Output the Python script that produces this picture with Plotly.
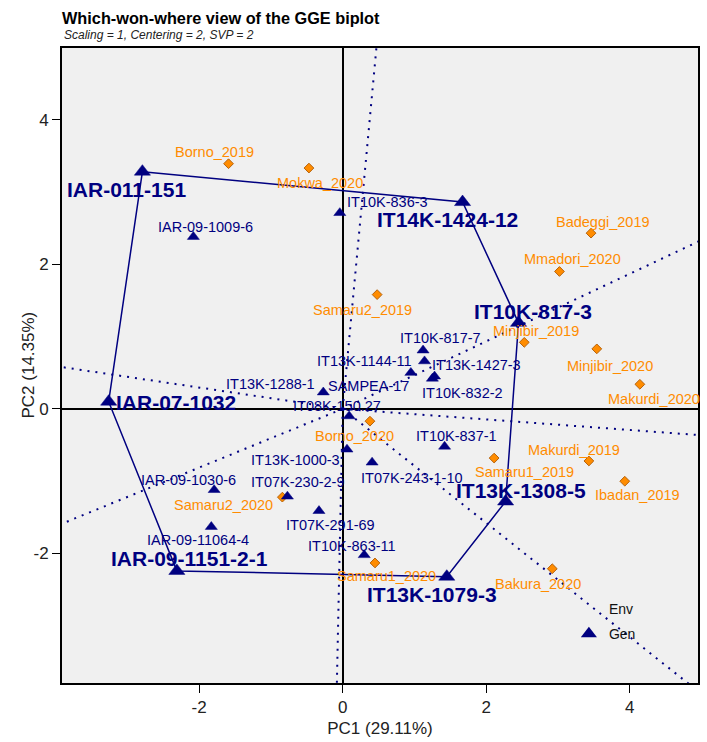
import numpy as np
import plotly.graph_objects as go

# ---- Genotype scores on the first two principal components ----
gen_names = [
    "IAR-011-151", "IT14K-1424-12", "IT10K-817-3", "IT13K-1308-5",
    "IT13K-1079-3", "IAR-09-1151-2-1", "IAR-07-1032",
    "IAR-09-1009-6", "IT10K-836-3", "IT10K-817-7", "IT13K-1144-11",
    "SAMPEA-17", "IT13K-1427-3", "IT10K-832-2", "IT13K-1288-1",
    "IT08K-150.27", "IT13K-1000-3", "IT10K-837-1", "IT07K-243-1-10",
    "IAR-09-1030-6", "IT07K-230-2-9", "IT07K-291-69", "IAR-09-11064-4",
    "IT10K-863-11",
]
gen_pc1 = [
    -2.79, 1.67, 2.45, 2.27,
    1.45, -2.31, -3.26,
    -2.08, -0.04, 1.12, 1.14,
    0.95, 1.28, 1.25, -0.27,
    0.09, 0.06, 1.42, 0.41,
    -1.79, -0.77, -0.33, -1.83,
    0.30,
]
gen_pc2 = [
    3.28, 2.86, 1.19, -1.28,
    -2.32, -2.24, 0.10,
    2.38, 2.71, 0.81, 0.66,
    0.50, 0.45, 0.42, 0.23,
    -0.10, -0.56, -0.52, -0.74,
    -1.12, -1.21, -1.41, -1.63,
    -2.02,
]

# Winning genotypes forming the convex hull, in drawing order
vertex_names = [
    "IAR-011-151", "IT14K-1424-12", "IT10K-817-3", "IT13K-1308-5",
    "IT13K-1079-3", "IAR-09-1151-2-1", "IAR-07-1032",
]

# ---- Environment scores ----
env_names = [
    "Borno_2019", "Mokwa_2020", "Badeggi_2019", "Mmadori_2020",
    "Samaru2_2019", "Minjibir_2019", "Minjibir_2020", "Makurdi_2020",
    "Borno_2020", "Makurdi_2019", "Samaru1_2019", "Ibadan_2019",
    "Samaru2_2020", "Samaru1_2020", "Bakura_2020",
]
env_pc1 = [
    -1.59, -0.47, 3.46, 3.02,
    0.48, 2.53, 3.54, 4.14,
    0.38, 3.43, 2.11, 3.93,
    -0.84, 0.45, 2.92,
]
env_pc2 = [
    3.39, 3.33, 2.43, 1.90,
    1.58, 0.92, 0.83, 0.34,
    -0.17, -0.72, -0.68, -1.00,
    -1.22, -2.13, -2.21,
]

x_tick_vals = [-2, 0, 2, 4]
x_tick_text = ["-2", "0", "2", "4"]
y_tick_vals = [-2, 0, 2, 4]
y_tick_text = ["-2", "0", "2", "4"]

# ---- Styling ----
NAVY = "#000080"
ORANGE = "#FF8C00"
FONT = "Liberation Sans, Arial, sans-serif"
X_RANGE = [-3.91, 4.95]
Y_RANGE = [-3.79, 4.99]

# Pixel offsets (dx, dy) of each text label from its marker
gen_label_shift = {
    "IAR-011-151": (-16, -18), "IT14K-1424-12": (-15, -17),
    "IT10K-817-3": (14, 11), "IT13K-1308-5": (15, 11),
    "IT13K-1079-3": (-15, -18), "IAR-09-1151-2-1": (13, 12),
    "IAR-07-1032": (67, -1), "IAR-09-1009-6": (12, 10),
    "IT10K-836-3": (48, 11), "IT10K-817-7": (17, 12),
    "IT13K-1144-11": (-60, 0), "SAMPEA-17": (-42, -13),
    "IT13K-1427-3": (42, 11), "IT10K-832-2": (30, -14),
    "IT13K-1288-1": (-53, 8), "IT08K-150.27": (-12, 10),
    "IT13K-1000-3": (-51, -11), "IT10K-837-1": (12, 11),
    "IT07K-243-1-10": (40, -16), "IAR-09-1030-6": (-26, 10),
    "IT07K-230-2-9": (11, 14), "IT07K-291-69": (12, -14),
    "IAR-09-11064-4": (-13, -13), "IT10K-863-11": (-12, 9),
}
env_label_shift = {
    "Borno_2019": (-14, 12), "Mokwa_2020": (11, -15),
    "Badeggi_2019": (12, 11), "Mmadori_2020": (13, 12),
    "Samaru2_2019": (-15, -15), "Minjibir_2019": (12, 11),
    "Minjibir_2020": (13, -17), "Makurdi_2020": (14, -15),
    "Borno_2020": (-15, -15), "Makurdi_2019": (-15, 11),
    "Samaru1_2019": (30, -14), "Ibadan_2019": (13, -14),
    "Samaru2_2020": (-59, -8), "Samaru1_2020": (12, -13),
    "Bakura_2020": (-14, -15),
}

gen = {n: (x, y) for n, x, y in zip(gen_names, gen_pc1, gen_pc2)}
hull = np.array([gen[n] for n in vertex_names])
hull_closed = np.vstack([hull, hull[:1]])

fig = go.Figure()

# Rays from the origin, perpendicular to each side of the polygon
ray_x, ray_y = [], []
for p1, p2 in zip(hull_closed[:-1], hull_closed[1:]):
    d = p2 - p1
    t = -np.dot(p1, d) / np.dot(d, d)
    foot = p1 + t * d
    far = foot / np.linalg.norm(foot) * 30.0
    ray_x += [0.0, far[0], None]
    ray_y += [0.0, far[1], None]

fig.add_trace(go.Scatter(
    x=ray_x, y=ray_y, mode="lines", hoverinfo="skip", showlegend=False,
    line=dict(color=NAVY, width=2, dash="2px,6px"),
))

# Polygon of winning genotypes
fig.add_trace(go.Scatter(
    x=hull_closed[:, 0], y=hull_closed[:, 1], mode="lines",
    hoverinfo="skip", showlegend=False,
    line=dict(color=NAVY, width=1.5),
))

# Environment markers
fig.add_trace(go.Scatter(
    x=env_pc1, y=env_pc2, mode="markers", showlegend=False,
    text=env_names, hoverinfo="text",
    marker=dict(symbol="diamond", size=7.5, color=ORANGE, opacity=1,
                line=dict(color="#B5620C", width=1)),
))

# Genotype markers (hull vertices drawn larger)
gen_sizes = [14 if n in vertex_names else 10.5 for n in gen_names]
fig.add_trace(go.Scatter(
    x=gen_pc1, y=gen_pc2, mode="markers", showlegend=False,
    text=gen_names, hoverinfo="text",
    marker=dict(symbol="triangle-up", size=gen_sizes, color=NAVY, opacity=1,
                line=dict(color=NAVY, width=0.5)),
))

# Legend entries
fig.add_trace(go.Scatter(
    x=[None], y=[None], mode="markers", name="Env", legendgroup="env",
    marker=dict(symbol="diamond", size=7, color="rgba(0,0,0,0)"),
))
fig.add_trace(go.Scatter(
    x=[None], y=[None], mode="markers", name="Gen", legendgroup="gen",
    marker=dict(symbol="triangle-up", size=14, color=NAVY, opacity=1),
))

annotations = []
for n, x, y in zip(env_names, env_pc1, env_pc2):
    dx, dy = env_label_shift[n]
    annotations.append(dict(
        x=x, y=y, text=n, showarrow=False, xshift=dx, yshift=dy,
        xanchor="center", yanchor="middle",
        font=dict(family=FONT, size=14.5, color=ORANGE),
    ))
for n, x, y in zip(gen_names, gen_pc1, gen_pc2):
    dx, dy = gen_label_shift[n]
    big = n in vertex_names
    annotations.append(dict(
        x=x, y=y, text=f"<b>{n}</b>" if big else n, showarrow=False,
        xshift=dx, yshift=dy, xanchor="center", yanchor="middle",
        font=dict(family=FONT, size=21 if big else 14.5, color=NAVY),
    ))

# Subtitle
annotations.append(dict(
    xref="paper", yref="paper", x=0, y=1.0205, xanchor="left",
    yanchor="middle", showarrow=False,
    text="<i>Scaling = 1, Centering = 2, SVP = 2</i>",
    font=dict(family=FONT, size=12, color="#222222"),
))

# Vertical axis title
annotations.append(dict(
    xref="paper", yref="paper", x=0, y=0.5, xshift=-34,
    xanchor="center", yanchor="middle", showarrow=False, textangle=-90,
    text="PC2 (14.35%)",
    font=dict(family=FONT, size=17, color="#222222"),
))

axis_common = dict(
    showgrid=False, zeroline=True, zerolinecolor="black", zerolinewidth=1.5,
    showline=True, mirror=True, linecolor="black", linewidth=2,
    ticks="outside", ticklen=8, tickwidth=1.2, tickcolor="black",
    tickfont=dict(family=FONT, size=17, color="#222222"),
)

fig.update_layout(
    width=707, height=742,
    margin=dict(l=62, r=7, t=48, b=58),
    paper_bgcolor="white", plot_bgcolor="#F0F0F0",
    title=dict(
        text="<b>Which-won-where view of the GGE biplot</b>",
        x=62 / 707, xanchor="left", y=1 - 18 / 742, yanchor="middle",
        font=dict(family=FONT, size=16.3, color="black"),
    ),
    xaxis=dict(
        range=X_RANGE, tickvals=x_tick_vals, ticktext=x_tick_text,
        title=dict(text="PC1 (29.11%)", standoff=6,
                   font=dict(family=FONT, size=17, color="#222222")),
        **axis_common,
    ),
    yaxis=dict(
        range=Y_RANGE, tickvals=y_tick_vals, ticktext=y_tick_text,
        **axis_common,
    ),
    showlegend=True,
    legend=dict(
        x=0.797, y=0.142, xanchor="left", yanchor="top",
        bgcolor="rgba(0,0,0,0)", borderwidth=0, tracegroupgap=4,
        font=dict(family=FONT, size=14, color="#111111"),
    ),
    annotations=annotations,
    hovermode="closest",
)

fig.write_html("out.html")
